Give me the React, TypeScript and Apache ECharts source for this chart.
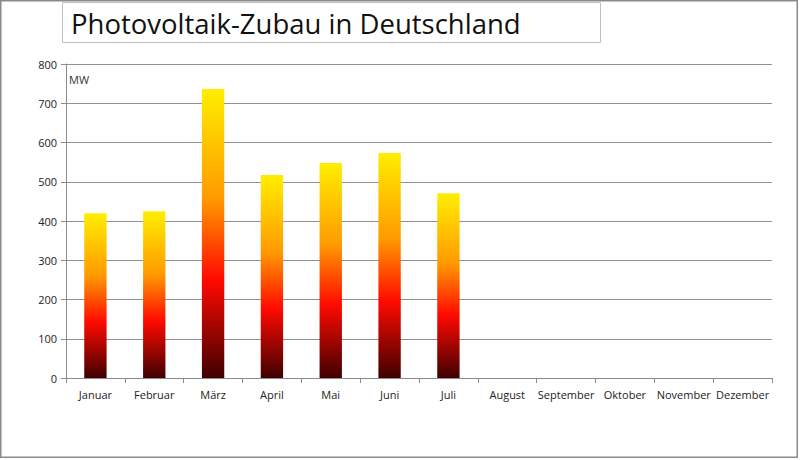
import React, { useEffect, useRef } from "react";
import * as echarts from "echarts";

const months = ["Januar", "Februar", "März", "April", "Mai", "Juni", "Juli", "August", "September", "Oktober", "November", "Dezember"];
const zubauMW: (number | null)[] = [420, 425, 736, 517, 548, 573, 471, null, null, null, null, null];
const yTicks = [0, 100, 200, 300, 400, 500, 600, 700, 800];
const titleText = "Photovoltaik-Zubau in Deutschland";
const unitText = "MW";

export default function App() {
  const ref = useRef<HTMLDivElement>(null);
  useEffect(() => {
    if (!ref.current) return;
    const chart = echarts.init(ref.current, null, { renderer: "svg" });
    const font = "'Open Sans', 'Noto Sans', sans-serif";
    chart.setOption({
      animation: false,
      backgroundColor: "#ffffff",
      grid: { left: 66, right: 28, top: 64, bottom: 82 },
      graphic: [
        { type: "rect", shape: { x: 0.75, y: 0.75, width: 796.5, height: 456.5 }, style: { fill: "none", stroke: "#8a8a8a", lineWidth: 1.5 }, z: 0 },
        { type: "rect", shape: { x: 62.5, y: 2.5, width: 538, height: 40 }, style: { fill: "#fff", stroke: "#c0c0c0", lineWidth: 1 }, z: 1 },
        { type: "text", x: 71, y: 23, style: { text: titleText, font: `27.5px ${font}`, fill: "#111", textVerticalAlign: "middle" }, z: 2 },
        { type: "text", x: 69, y: 79, style: { text: unitText, font: `11px ${font}`, fill: "#333", textVerticalAlign: "middle" }, z: 2 },
      ],
      xAxis: {
        type: "category",
        data: months,
        boundaryGap: true,
        axisLine: { lineStyle: { color: "#8c8c8c" } },
        axisTick: { show: true, alignWithLabel: false, length: 5, lineStyle: { color: "#8c8c8c" } },
        axisLabel: { color: "#222", fontSize: 11, fontFamily: font, margin: 11, interval: 0 },
      },
      yAxis: {
        type: "value",
        min: yTicks[0],
        max: yTicks[yTicks.length - 1],
        interval: 100,
        axisLine: { show: true, lineStyle: { color: "#8c8c8c" } },
        axisTick: { show: true, length: 5, lineStyle: { color: "#8c8c8c" } },
        axisLabel: { color: "#222", fontSize: 11, fontFamily: font, margin: 9 },
        splitLine: { lineStyle: { color: "#919191", width: 1 } },
      },
      series: [
        {
          type: "bar",
          data: zubauMW,
          barWidth: "38%",
          itemStyle: {
            color: new echarts.graphic.LinearGradient(0, 0, 0, 1, [
              { offset: 0, color: "#ffee00" },
              { offset: 0.38, color: "#ff9a00" },
              { offset: 0.66, color: "#ff0a00" },
              { offset: 1, color: "#3f0000" },
            ]),
          },
        },
      ],
    });
    return () => chart.dispose();
  }, []);
  return <div ref={ref} style={{ position: "fixed", left: 0, top: 0, width: 800, height: 460 }} />;
}
